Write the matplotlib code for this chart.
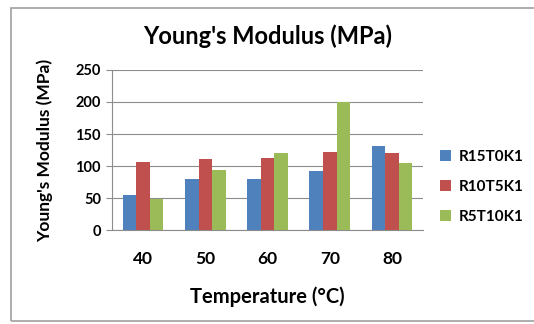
import matplotlib.pyplot as plt
import numpy as np
from matplotlib.patches import Rectangle

plt.rcParams['font.family'] = ['Lato', 'DejaVu Sans']
plt.rcParams['font.weight'] = 'bold'

# data
temperatures = ['40', '50', '60', '70', '80']
r15t0k1 = [55, 80, 80, 92, 131]
r10t5k1 = [107, 111, 112, 122, 121]
r5t10k1 = [48, 94, 121, 200, 104]
series_names = ['R15T0K1', 'R10T5K1', 'R5T10K1']
colors = ['#4F81BD', '#C0504D', '#9BBB59']

fig = plt.figure(figsize=(5.34, 3.24), dpi=100)
ax = fig.add_axes([0.2097, 0.290, 0.5826, 0.494])

# outer chart border
fig.patches.append(Rectangle((11 / 534, 3 / 324), 540 / 534, 313 / 324, transform=fig.transFigure,
                             fill=False, edgecolor='#A0A0A0', linewidth=1.2))

x = np.arange(len(temperatures))
width = 0.218
for i, (vals, name) in enumerate(zip([r15t0k1, r10t5k1, r5t10k1], series_names)):
    ax.bar(x + (i - 1) * width, vals, width, color=colors[i], label=name, zorder=3)

ax.set_xlim(-0.5, len(temperatures) - 0.5)
ax.set_ylim(0, 250)
ax.set_yticks(range(0, 251, 50))
ax.set_xticks(x)
ax.set_xticklabels(temperatures, fontsize=12.5, fontweight='bold')
ax.tick_params(axis='y', labelsize=10.5, length=4, color='#8C8C8C', pad=4)
ax.tick_params(axis='x', length=0, pad=15)
for lbl in ax.get_yticklabels():
    lbl.set_fontweight('bold')
ax.grid(axis='y', color='#8C8C8C', linewidth=0.8, zorder=0)
for s in ['top', 'right']:
    ax.spines[s].set_visible(False)
for s in ['left', 'bottom']:
    ax.spines[s].set_color('#8C8C8C')

ax.set_title("Young's Modulus (MPa)", fontsize=17, fontweight='bold', pad=19)
ax.set_xlabel('Temperature (°C)', fontsize=14.5, fontweight='bold', labelpad=14)
ax.set_ylabel("Young's Modulus (MPa)", fontsize=12.5, fontweight='bold', labelpad=16)

ax.legend(loc='center left', bbox_to_anchor=(1.01, 0.27), frameon=False, fontsize=11,
          handlelength=0.7, handleheight=0.7, labelspacing=1.05, handletextpad=0.5)

fig.savefig('out.png', dpi=100)
